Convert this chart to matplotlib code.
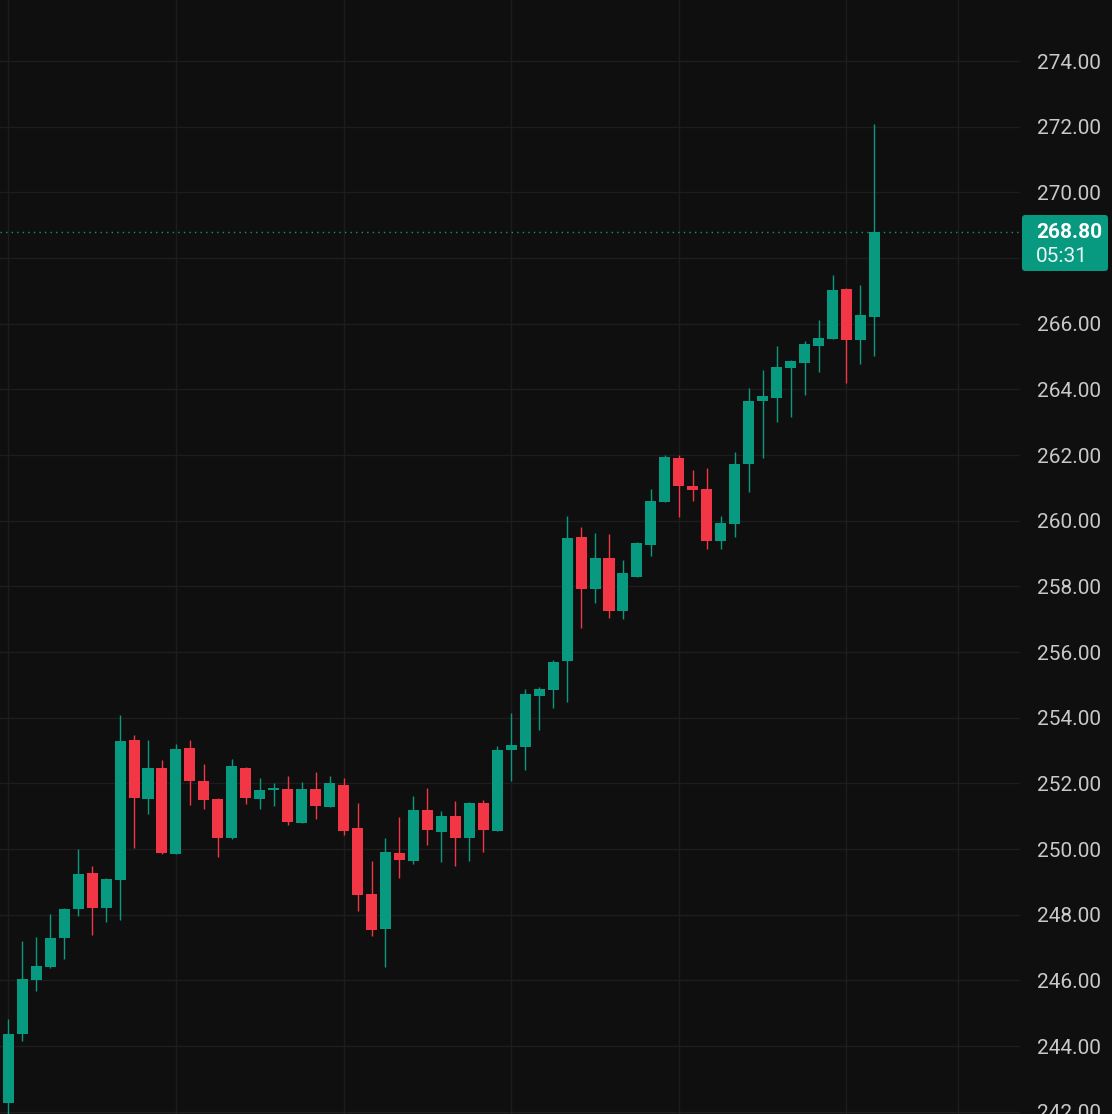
"""Candlestick chart, dark theme, price scale on the right."""
import matplotlib

matplotlib.use("Agg")
import matplotlib.pyplot as plt
import numpy as np
from matplotlib.patches import FancyBboxPatch

BG = "#0f0f0f"
GRID = "#1d1d1d"
UP = "#089981"
DOWN = "#f23645"
TEXT = "#c9c9c9"

# OHLC per bar
opens = [242.26, 244.36, 246.02, 246.40, 247.30, 248.17, 249.27, 248.20, 249.05, 253.32,
         251.52, 252.46, 249.85, 253.07, 252.07, 251.52, 250.34, 252.46, 251.52, 251.80,
         251.83, 250.79, 251.83, 251.28, 251.95, 250.65, 248.63, 247.56, 249.88, 249.63,
         251.19, 250.52, 251.00, 250.33, 251.40, 250.55, 253.01, 253.10, 254.66, 254.85,
         255.73, 259.50, 257.93, 258.86, 257.26, 258.29, 259.27, 260.58, 261.91, 261.05,
         260.96, 259.39, 259.91, 261.73, 263.64, 263.73, 264.65, 264.80, 265.32, 265.53,
         267.06, 265.50, 266.20]
highs = [244.82, 247.20, 247.32, 248.02, 248.20, 250.00, 249.49, 249.12, 254.08, 253.48,
         253.32, 252.71, 253.20, 253.32, 252.59, 251.55, 252.74, 252.50, 252.16, 252.01,
         252.22, 252.04, 252.34, 252.22, 252.16, 251.40, 249.63, 250.33, 250.97, 251.61,
         251.86, 251.16, 251.46, 251.43, 251.49, 253.13, 254.14, 254.87, 254.93, 255.75,
         260.14, 259.81, 259.62, 259.59, 258.80, 259.36, 260.96, 262.01, 262.01, 261.54,
         261.60, 260.14, 262.09, 264.04, 264.59, 265.32, 264.89, 265.47, 266.11, 267.48,
         267.09, 267.18, 272.08]
lows = [241.60, 244.15, 245.68, 246.38, 246.65, 247.97, 247.38, 247.78, 247.84, 250.04,
        251.06, 249.85, 249.85, 251.34, 251.22, 249.76, 250.30, 251.37, 251.22, 251.31,
        250.73, 250.78, 250.91, 251.28, 250.42, 248.11, 247.35, 246.41, 249.12, 249.54,
        250.12, 249.60, 249.48, 249.63, 249.91, 250.55, 252.07, 252.40, 253.62, 254.30,
        254.48, 256.74, 257.50, 257.04, 257.01, 258.28, 258.93, 260.58, 260.12, 260.61,
        259.14, 259.14, 259.51, 260.88, 261.91, 263.00, 263.16, 263.83, 264.53, 265.53,
        264.19, 264.77, 265.01]
closes = [244.36, 246.04, 246.43, 247.29, 248.17, 249.24, 248.20, 249.08, 253.29, 251.55,
          252.46, 249.88, 253.04, 252.08, 251.50, 250.34, 252.53, 251.55, 251.80, 251.84,
          250.82, 251.83, 251.31, 252.01, 250.55, 248.60, 247.53, 249.91, 249.66, 251.19,
          250.58, 251.00, 250.33, 251.40, 250.58, 253.01, 253.17, 254.72, 254.87, 255.70,
          259.47, 257.93, 258.86, 257.26, 258.40, 259.32, 260.60, 261.94, 261.06, 260.94,
          259.39, 259.93, 261.72, 263.64, 263.80, 264.68, 264.86, 265.38, 265.56, 267.02,
          265.50, 266.26, 268.80]

price_ticks = list(range(242, 276, 2))
time_grid = [0, 12, 24, 36, 48, 60, 68]  # vertical grid positions (bar index)
last_price = 268.80
countdown = "05:31"

# %%
W, H = 1112, 1114
fig = plt.figure(figsize=(W / 100, H / 100), dpi=100, facecolor=BG)
ax = fig.add_axes([0, 0, 1020 / W, 1])
ax.set_facecolor(BG)

x = np.arange(len(opens))
o, h, l, c = map(np.asarray, (opens, highs, lows, closes))
colors = np.where(c >= o, UP, DOWN)

ax.vlines(x, l, h, colors=colors, lw=1.0, zorder=3)
body_lo = np.minimum(o, c)
body_h = np.maximum(np.abs(c - o), 0.05)
ax.bar(x, body_h, bottom=body_lo, width=0.79, color=colors, linewidth=0, zorder=4)

ax.axhline(last_price, color=UP, lw=1.0, ls=(0, (1, 3)), zorder=2)

ax.set_xlim(-0.594, 72.42)
ax.set_ylim(241.93, 275.86)
ax.set_xticks(time_grid)
ax.set_yticks(price_ticks)
# the 268.00 label sits under the last-price tag, so leave it blank
ax.set_yticklabels(["" if abs(v - last_price) < 1.0 else f"{v:.2f}" for v in price_ticks])
ax.grid(True, color=GRID, lw=1.0, zorder=0)
ax.yaxis.tick_right()
ax.tick_params(axis="x", length=0, labelbottom=False)
ax.tick_params(axis="y", length=0, pad=12.5, labelsize=15, labelcolor=TEXT)
for lab in ax.get_yticklabels():
    lab.set_fontfamily("Roboto")
for s in ax.spines.values():
    s.set_visible(False)

# last-price tag on the scale
box = FancyBboxPatch((1022 / W, 1 - 271 / H), 86 / W, 56 / H,
                     boxstyle="round,pad=0,rounding_size=0.003",
                     transform=fig.transFigure, facecolor=UP, edgecolor="none", zorder=10)
fig.add_artist(box)
fig.text(1036 / W, 1 - 232 / H, f"{last_price:.2f}", color="white", fontsize=15,
         fontweight="bold", family="Roboto", va="center", ha="left", zorder=11)
fig.text(1036 / W, 1 - 257 / H, countdown, color="#e8f5f2", fontsize=15,
         family="Roboto", va="center", ha="left", zorder=11)

fig.savefig("out.png", dpi=100, facecolor=BG)
plt.close(fig)
